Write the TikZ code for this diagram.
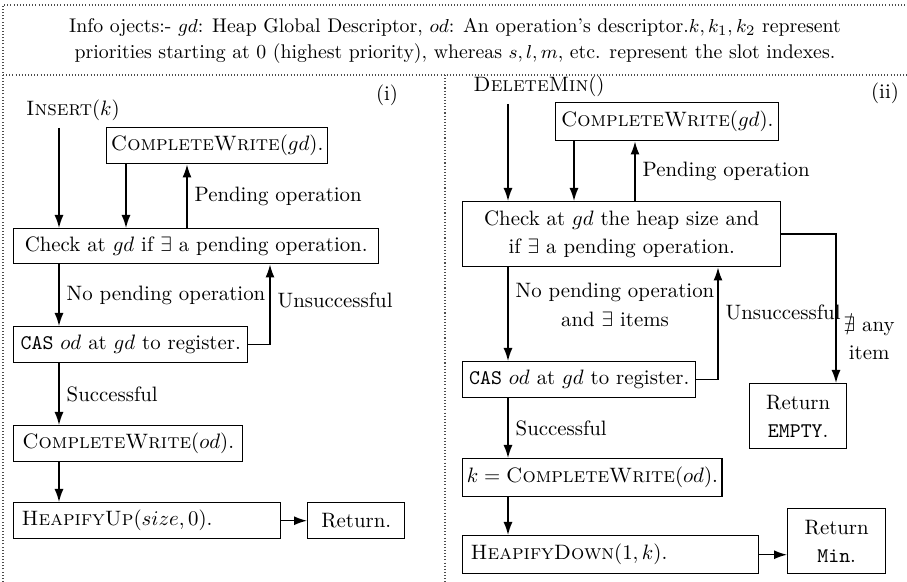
\documentclass[tikz,border=0pt]{standalone}
\usepackage{amssymb}
\usepackage{tikz}
\usetikzlibrary{arrows, arrows.meta, positioning}

\newcommand{\pu}{0.48pt}
\tikzset{
  blk/.style = {draw, line width = 0.7pt, anchor = north west, inner sep = 2pt},
  arr/.style = {-{Latex[length = 13*\pu, width = 9*\pu]}, line width = 0.7pt},
  frm/.style = {densely dotted, line width = 0.5pt, color = black!70},
}

\begin{document}
\begin{tikzpicture}[x = \pu, y = -\pu]
\useasboundingbox (0,0) rectangle (907,582);
\draw[frm] (3,582) -- (3,5) -- (907,5);
\draw[frm] (3,75) -- (907,75);
\draw[frm] (445,75) -- (445,582);
\node[align = center, font = \fontsize{9.5}{12.5}\selectfont] (info) at (455,41) {Info ojects:- $gd$: Heap Global Descriptor, $od$: An operation's descriptor.$k, k_1, k_2$ represent\\priorities starting at 0 (highest priority), whereas $s, l, m$, etc. represent the slot indexes.};

% (i)
\node (tagi) at (387,95) {(i)};
\node (ins) at (73,110) {\textsc{Insert}$(k)$};
\node[blk, minimum width = 219*\pu, minimum height = 36*\pu] (cwg1) at (106,127) {\textsc{CompleteWrite}$(gd)$.};
\node[blk, minimum width = 365*\pu, minimum height = 35*\pu] (chk1) at (13,228) {Check at $gd$ if $\exists$ a pending operation.};
\node[blk, minimum width = 234*\pu, minimum height = 36*\pu] (cas1) at (13,326) {\texttt{CAS} $od$ at $gd$ to register.};
\node[blk, minimum width = 229*\pu, minimum height = 36*\pu] (cwo1) at (13,425) {\textsc{CompleteWrite}$(od)$.};
\node[blk, text width = 251*\pu, align = left, inner xsep = 8*\pu, minimum height = 36*\pu] (hup) at (13,502) {\textsc{HeapifyUp}$(size, 0)$.};
\node[blk, minimum width = 97*\pu, minimum height = 36*\pu] (ret1) at (307,502) {Return.};

\draw[arr] (ins.south -| 59,0) -- (chk1.north -| 59,0);
\draw[arr] (cwg1.south -| 126,0) -- (chk1.north -| 126,0);
\draw[arr] (chk1.north -| 187,0) -- node[right] {Pending operation} (cwg1.south -| 187,0);
\draw[arr] (chk1.south -| 59,0) -- node[right] {No pending operation} (cas1.north -| 59,0);
\draw[arr] (cas1.east) -- (270,0 |- cas1.east) -- node[right, pos = 0.55] {Unsuccessful} (chk1.south -| 270,0);
\draw[arr] (cas1.south -| 59,0) -- node[right] {Successful} (cwo1.north -| 59,0);
\draw[arr] (cwo1.south -| 59,0) -- (hup.north -| 59,0);
\draw[arr] (hup) -- (ret1);

% (ii)
\node (tagii) at (885,93) {(ii)};
\node (del) at (539,86) {\textsc{DeleteMin}$()$};
\node[blk, minimum width = 223*\pu, minimum height = 38*\pu] (cwg2) at (555,102) {\textsc{CompleteWrite}$(gd)$.};
\node[blk, align = center, minimum width = 318*\pu, minimum height = 65*\pu] (chk2) at (462,201) {Check at $gd$ the heap size and\\[1.5pt]if $\exists$ a pending operation.};
\node[blk, minimum width = 233*\pu, minimum height = 36*\pu] (cas2) at (462,361) {\texttt{CAS} $od$ at $gd$ to register.};
\node[blk, align = center, minimum width = 97*\pu, minimum height = 65*\pu] (emp) at (749,383) {Return\\[1.5pt]\texttt{EMPTY}.};
\node[blk, minimum width = 251*\pu, minimum height = 38*\pu] (cwo2) at (462,458) {$k = \textsc{CompleteWrite}(od)$.};
\node[blk, text width = 280*\pu, align = left, inner xsep = 8*\pu, minimum height = 38*\pu] (hdn) at (462,535) {\textsc{HeapifyDown}$(1, k)$.};
\node[blk, align = center, minimum width = 98*\pu, minimum height = 65*\pu] (ret2) at (787,508) {Return\\[1.5pt]\texttt{Min}.};

\draw[arr] (del.south -| 508,0) -- (chk2.north -| 508,0);
\draw[arr] (cwg2.south -| 574,0) -- (chk2.north -| 574,0);
\draw[arr] (chk2.north -| 635,0) -- node[right] {Pending operation} (cwg2.south -| 635,0);
\draw[arr] (chk2.south -| 508,0) -- node[right, align = center, pos = 0.4] {No pending operation\\[1.5pt]and $\exists$ items} (cas2.north -| 508,0);
\draw[arr] (cas2.east) -- (718,0 |- cas2.east) -- node[right, pos = 0.6] {Unsuccessful} (chk2.south -| 718,0);
\draw[arr] (chk2.east) -- (836,0 |- chk2.east) -- node[right, align = center, pos = 0.7] {$\nexists$ any\\[1.5pt]item} (emp.north -| 836,0);
\draw[arr] (cas2.south -| 508,0) -- node[right] {Successful} (cwo2.north -| 508,0);
\draw[arr] (cwo2.south -| 508,0) -- (hdn.north -| 508,0);
\draw[arr] (hdn.east) -- (hdn.east -| ret2.west);
\end{tikzpicture}
\end{document}
